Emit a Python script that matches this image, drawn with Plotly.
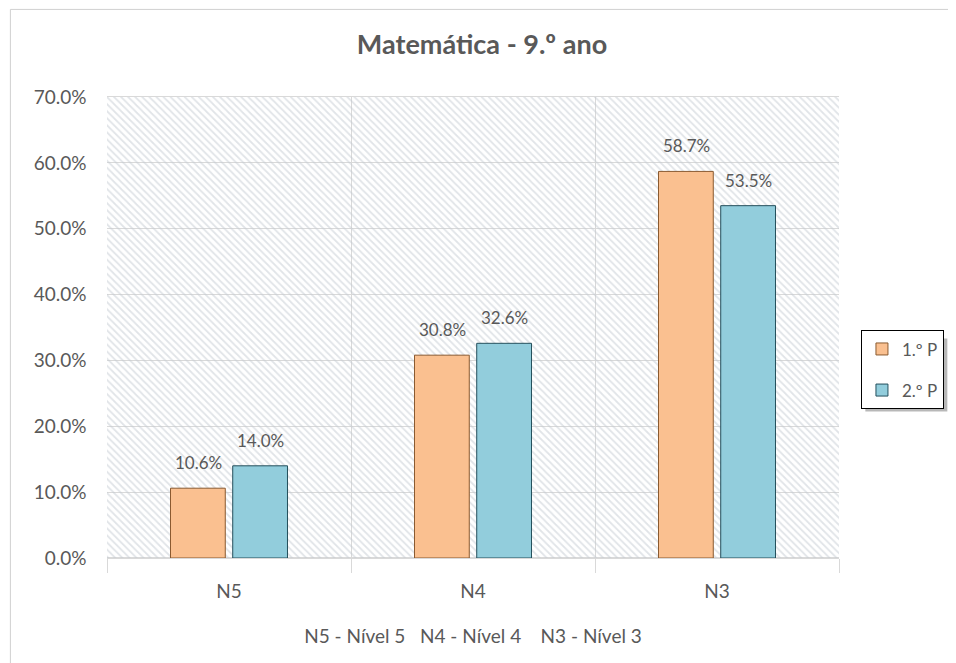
import plotly.graph_objects as go

niveis = ["N5", "N4", "N3"]
p1 = [0.106, 0.308, 0.587]
p2 = [0.140, 0.326, 0.535]
series = ["1.º P", "2.º P"]

cinza = "#595959"
fonte = "Lato"

fig = go.Figure()

# fundo tracejado da área do gráfico (eixo principal escondido)
fig.add_trace(go.Bar(
    x=[1.5], y=[1], width=[3], xaxis="x", yaxis="y",
    marker=dict(color="rgba(0,0,0,0)", line=dict(width=0),
                pattern=dict(shape="\\", fgcolor="#c3cad1", bgcolor="rgba(255,255,255,0)",
                             size=5, solidity=0.35)),
    showlegend=False, hoverinfo="skip",
))

fig.add_trace(go.Bar(
    x=niveis, y=p1, name=series[0], xaxis="x2", yaxis="y2", legendgroup="a",
    marker=dict(color="#FAC090", line=dict(color="#8a5a30", width=1)),
))
fig.add_trace(go.Bar(
    x=niveis, y=p2, name=series[1], xaxis="x2", yaxis="y2", legendgroup="b",
    marker=dict(color="#92CDDC", line=dict(color="#244f5c", width=1)),
))

# rótulos de dados, um pouco afastados do topo das barras
rotulos = []
for vals, dx in [(p1, -31), (p2, 31)]:
    for n, v in zip(niveis, vals):
        rotulos.append(dict(x=n, y=v, xref="x2", yref="y2", text=f"{v*100:.1f}%",
                            showarrow=False, xshift=dx, yshift=13, yanchor="bottom",
                            font=dict(size=17, color=cinza, family=fonte)))

fig.update_layout(
    width=948, height=655,
    margin=dict(l=99, r=114, t=89, b=105),
    paper_bgcolor="white", plot_bgcolor="white",
    font=dict(family=fonte, color=cinza, size=18),
    title=dict(text="<b>Matemática - 9.º ano</b>", x=0.5, xanchor="center", y=0.944,
               yanchor="middle", font=dict(size=27, color=cinza, family=fonte)),
    barmode="group", bargap=0.49, bargroupgap=0.12,
    xaxis=dict(range=[0, 3], showticklabels=False, showgrid=True, dtick=1, tick0=0,
               gridcolor="#d9d9d9", ticks="outside", ticklen=14, tickcolor="#d9d9d9",
               showline=True, linecolor="#d9d9d9", mirror=True, zeroline=False,
               fixedrange=True),
    yaxis=dict(range=[0, 1], visible=False, fixedrange=True),
    xaxis2=dict(overlaying="x", type="category", showgrid=False, showline=False,
                ticks="outside", ticklen=16, tickcolor="rgba(0,0,0,0)",
                tickfont=dict(size=19, color=cinza),
                title=dict(text="N5 - Nível 5   N4 - Nível 4    N3 - Nível 3",
                           font=dict(size=19, color=cinza), standoff=28)),
    yaxis2=dict(overlaying="y", range=[0, 0.7], dtick=0.1, tickformat=".1%",
                showgrid=True, gridcolor="#d9d9d9", zeroline=True, zerolinecolor="#d9d9d9",
                tickfont=dict(size=19, color=cinza), ticksuffix="    "),
    legend=dict(x=1.03, y=0.408, xanchor="left", yanchor="middle",
                bordercolor="#000000", borderwidth=1, bgcolor="white",
                font=dict(size=17, color=cinza), itemwidth=30, tracegroupgap=16),
    annotations=rotulos,
    shapes=[
        dict(type="rect", xref="paper", yref="paper", x0=-0.132, x1=1.16,
             y0=-0.24, y1=1.19, line=dict(color="#d0d0d0", width=1)),
        # sombra da legenda
        dict(type="rect", xref="paper", yref="paper", x0=1.036, x1=1.148,
             y0=0.318, y1=0.476, fillcolor="rgba(0,0,0,0.28)", line=dict(width=0)),
    ],
)

fig.write_html("out.html")
